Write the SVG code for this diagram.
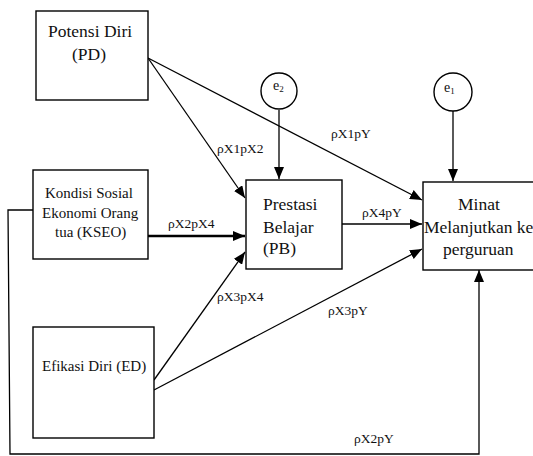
<svg xmlns="http://www.w3.org/2000/svg" width="533" height="456" viewBox="0 0 533 456" font-family="'Liberation Serif', 'Times New Roman', serif">
<defs>
<style>
.box{fill:#fff;stroke:#000;stroke-width:1.4}
.t{font-family:'Liberation Serif','Times New Roman',serif;fill:#111}
.big{font-size:17.5px}
.mid{font-size:15px}
.lab{font-size:13.5px}
.ln{fill:none;stroke:#000;stroke-width:1.3}
.thick{fill:none;stroke:#000;stroke-width:2.6}
</style>
<marker id="ah" viewBox="0 0 12 10" refX="12" refY="5" markerWidth="12" markerHeight="10" markerUnits="userSpaceOnUse" orient="auto">
<path d="M0,0 L12,5 L0,10 Z" fill="#000"/>
</marker>
</defs>
<rect width="533" height="456" fill="#fff"/>
<g id="connectors">
<line class="ln" x1="148" y1="58" x2="245" y2="198" marker-end="url(#ah)"/>
<line class="ln" x1="148" y1="58" x2="422" y2="200" marker-end="url(#ah)"/>
<line class="ln" x1="279" y1="110" x2="279" y2="179" marker-end="url(#ah)"/>
<line class="ln" x1="453" y1="111" x2="453" y2="181" marker-end="url(#ah)"/>
<line class="thick" x1="148" y1="236" x2="245" y2="236" marker-end="url(#ah)"/>
<line class="ln" x1="342" y1="224" x2="422" y2="224" marker-end="url(#ah)"/>
<line class="ln" x1="154" y1="380" x2="245" y2="252" marker-end="url(#ah)"/>
<line class="ln" x1="154" y1="390" x2="422" y2="249" marker-end="url(#ah)"/>
<polyline class="ln" points="33,210 8,210 10,454 479,454 479,270" marker-end="url(#ah)"/>
<text class="t lab" x="217" y="153">ρX1pX2</text>
<text class="t lab" x="331" y="138">ρX1pY</text>
<text class="t lab" x="168" y="228">ρX2pX4</text>
<text class="t lab" x="362" y="217">ρX4pY</text>
<text class="t lab" x="217" y="301">ρX3pX4</text>
<text class="t lab" x="328" y="315">ρX3pY</text>
<text class="t lab" x="354" y="443">ρX2pY</text>
</g>
<g id="PD">
<rect class="box" x="36" y="11" width="112" height="89"/>
<text class="t big" x="48" y="37">Potensi Diri</text>
<text class="t big" x="72" y="60">(PD)</text>
</g>
<g id="KSEO">
<rect class="box" x="33" y="170" width="115" height="89"/>
<text class="t mid" x="45" y="198">Kondisi Sosial</text>
<text class="t mid" x="42" y="218">Ekonomi Orang</text>
<text class="t mid" x="55" y="237">tua (KSEO)</text>
</g>
<g id="ED">
<rect class="box" x="33" y="327" width="121" height="111"/>
<text class="t mid" x="42" y="371">Efikasi Diri (ED)</text>
</g>
<g id="PB">
<rect class="box" x="246" y="180" width="96" height="89"/>
<text class="t big" x="263" y="210">Prestasi</text>
<text class="t big" x="263" y="233">Belajar</text>
<text class="t big" x="263" y="254">(PB)</text>
</g>
<g id="Minat">
<rect class="box" x="423" y="182" width="120" height="88"/>
<text class="t big" x="458" y="210">Minat</text>
<text class="t big" x="424" y="233">Melanjutkan ke</text>
<text class="t big" x="443" y="255">perguruan</text>
</g>
<g id="e2">
<circle class="box" cx="279" cy="91" r="18"/>
<text class="t" font-size="14" x="273" y="90">e<tspan font-size="9" dy="2">2</tspan></text>
</g>
<g id="e1">
<circle class="box" cx="453" cy="92" r="19"/>
<text class="t" font-size="14" x="444" y="92">e<tspan font-size="9" dy="2">1</tspan></text>
</g>
</svg>
